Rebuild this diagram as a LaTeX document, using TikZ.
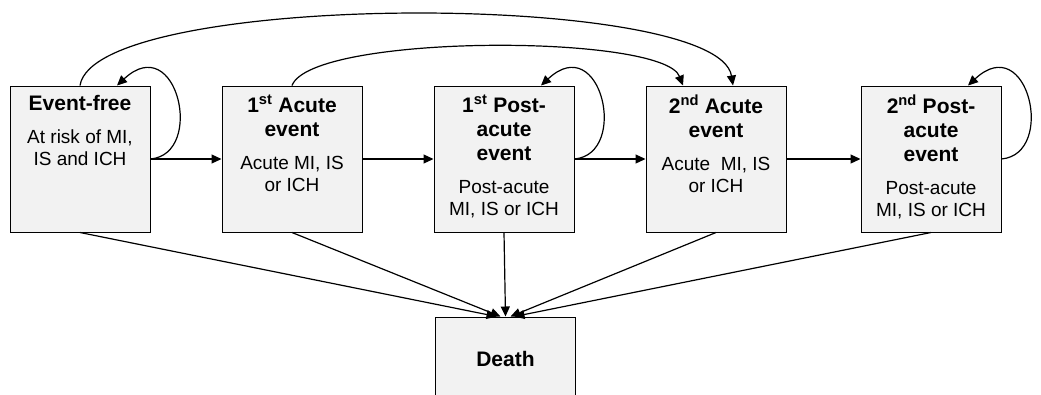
\documentclass[tikz,border=0pt]{standalone}
\usepackage{fontspec}
\setmainfont{Liberation Sans}
\usetikzlibrary{arrows.meta,calc}
\definecolor{boxgray}{RGB}{242,242,242}
\tikzset{
  statebox/.style={draw=black, line width=1pt, fill=boxgray, minimum width=140pt, minimum height=146pt, inner sep=0pt},
  arr/.style={line width=1.2pt, -{Triangle[length=10pt,width=9pt]}},
}
\newcommand{\boxtext}[2]{\parbox[c][138pt][t]{136pt}{\centering\vspace*{5pt}\fontsize{21}{24}\selectfont\bfseries #1\par\vspace{11pt}\fontsize{19}{22}\selectfont\mdseries #2\par}}

\begin{document}
\begin{tikzpicture}[x=1pt,y=-1pt]
\useasboundingbox (0,0) rectangle (1041,394);
% states
\node[statebox] (ef)  at (80,159)  {\boxtext{Event-free}{At risk of MI,\\IS and ICH}};
\node[statebox] (aa1) at (292,159) {\boxtext{1\textsuperscript{st} Acute\\event}{Acute MI, IS\\or ICH}};
\node[statebox] (pa1) at (504,159) {\boxtext{1\textsuperscript{st} Post-\\acute\\event}{Post-acute\\MI, IS or ICH}};
\node[statebox] (aa2) at (716,159) {\boxtext{2\textsuperscript{nd} Acute\\event}{Acute\ \ MI, IS\\or ICH}};
\node[statebox] (pa2) at (931,159) {\boxtext{2\textsuperscript{nd} Post-\\acute\\event}{Post-acute\\MI, IS or ICH}};
\node[statebox, minimum height=84pt] (death) at (505.5,359) {\fontsize{21}{24}\selectfont\bfseries Death};
% forward transitions
\draw[arr] (ef.east) -- (aa1.west);
\draw[arr] (aa1.east) -- (pa1.west);
\draw[arr] (pa1.east) -- (aa2.west);
\draw[arr] (aa2.east) -- (pa2.west);
% staying in a state
\foreach \s in {ef,pa1,pa2}
  \draw[arr] (\s.east) .. controls +(55,-5) and +(60,-56) .. ($(\s.north)+(37,0)$);
% recurrent events
\draw[arr] (ef.north) .. controls +(15,-95) and +(-15,-95) .. ($(aa2.north)+(17,0)$);
\draw[arr] (aa1.north) .. controls +(20,-52) and +(-20,-52) .. ($(aa2.north)+(-33,0)$);
% death
\foreach \s/\dx in {ef/-9,aa1/-5,pa1/0,aa2/5,pa2/9}
  \draw[arr] (\s.south) -- ($(death.north)+(\dx,0)$);
\end{tikzpicture}
\end{document}
